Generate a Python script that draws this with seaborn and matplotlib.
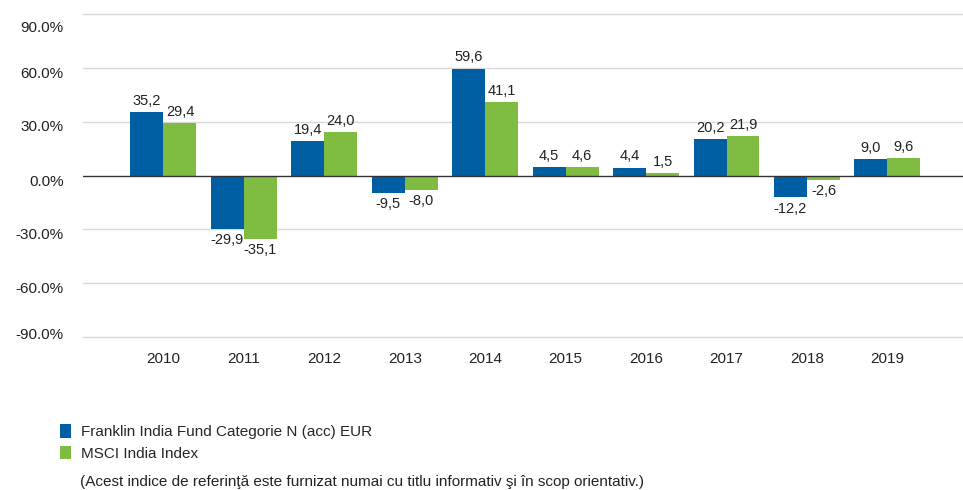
import numpy as np
import pandas as pd
import matplotlib
matplotlib.use("Agg")
import matplotlib.pyplot as plt
import matplotlib.transforms as mtransforms
import seaborn as sns

years = ["2010", "2011", "2012", "2013", "2014", "2015", "2016", "2017", "2018", "2019"]
fund = [35.2, -29.9, 19.4, -9.5, 59.6, 4.5, 4.4, 20.2, -12.2, 9.0]
index = [29.4, -35.1, 24.0, -8.0, 41.1, 4.6, 1.5, 21.9, -2.6, 9.6]
fund_name = "Franklin India Fund Categorie N (acc) EUR"
index_name = "MSCI India Index"
note = "(Acest indice de referinţă este furnizat numai cu titlu informativ şi în scop orientativ.)"
yticks = [-90, -60, -30, 0, 30, 60, 90]

df = pd.DataFrame({
    "year": years * 2,
    "value": fund + index,
    "series": [fund_name] * len(years) + [index_name] * len(years),
})

sns.set_style("white")
plt.rcParams["font.family"] = ["Liberation Sans Narrow", "Liberation Sans", "DejaVu Sans"]

fig = plt.figure(figsize=(9.63, 4.90), dpi=100)
ax = fig.add_axes([0.0862, 0.3122, 0.9138, 0.6592])

sns.barplot(data=df, x="year", y="value", hue="series",
            palette=["#005ea2", "#80bc41"], width=0.82, saturation=1,
            linewidth=0, ax=ax, legend=True)

for cont in ax.containers:
    vals = [b.get_height() for b in cont]
    ax.bar_label(cont, labels=[f"{v:.1f}".replace(".", ",") for v in vals],
                 padding=3, fontsize=10.5, color="#222222")

ax.set_ylim(-90, 90)
ax.set_xlim(-1, 9.94)
ax.set_yticks(yticks)
ax.set_yticklabels([f"{t:.1f}%" for t in yticks], fontsize=11, color="#222222")
ax.tick_params(axis="y", length=0, pad=14)
ax.tick_params(axis="x", length=0, pad=11, labelsize=11, labelcolor="#222222")
# labels in the original sit a little off their gridlines
label_dy = [4, -4, -4, -5, -4, -5, -12]
for lab, dy in zip(ax.get_yticklabels(), label_dy):
    shift = mtransforms.ScaledTranslation(0, dy / 100, fig.dpi_scale_trans)
    lab.set_transform(lab.get_transform() + shift)
for t in yticks:
    if t != 0:
        ax.axhline(t, color="#d9d9d9", lw=1, zorder=0, clip_on=False)
ax.axhline(0, color="#333333", lw=1, zorder=3)
for s in ax.spines.values():
    s.set_visible(False)
ax.set_xlabel("")
ax.set_ylabel("")

handles, labels = ax.get_legend_handles_labels()
ax.get_legend().remove()
fig.legend(handles, labels, loc="upper left", bbox_to_anchor=(0.062, 0.134),
           bbox_transform=fig.transFigure, frameon=False, fontsize=11,
           handlelength=0.75, handleheight=0.95, handletextpad=0.65,
           labelspacing=0.45, borderpad=0, borderaxespad=0)
fig.text(0.083, 0.008, note, fontsize=11, color="#222222", ha="left", va="baseline")

fig.savefig("out.png", dpi=100)
